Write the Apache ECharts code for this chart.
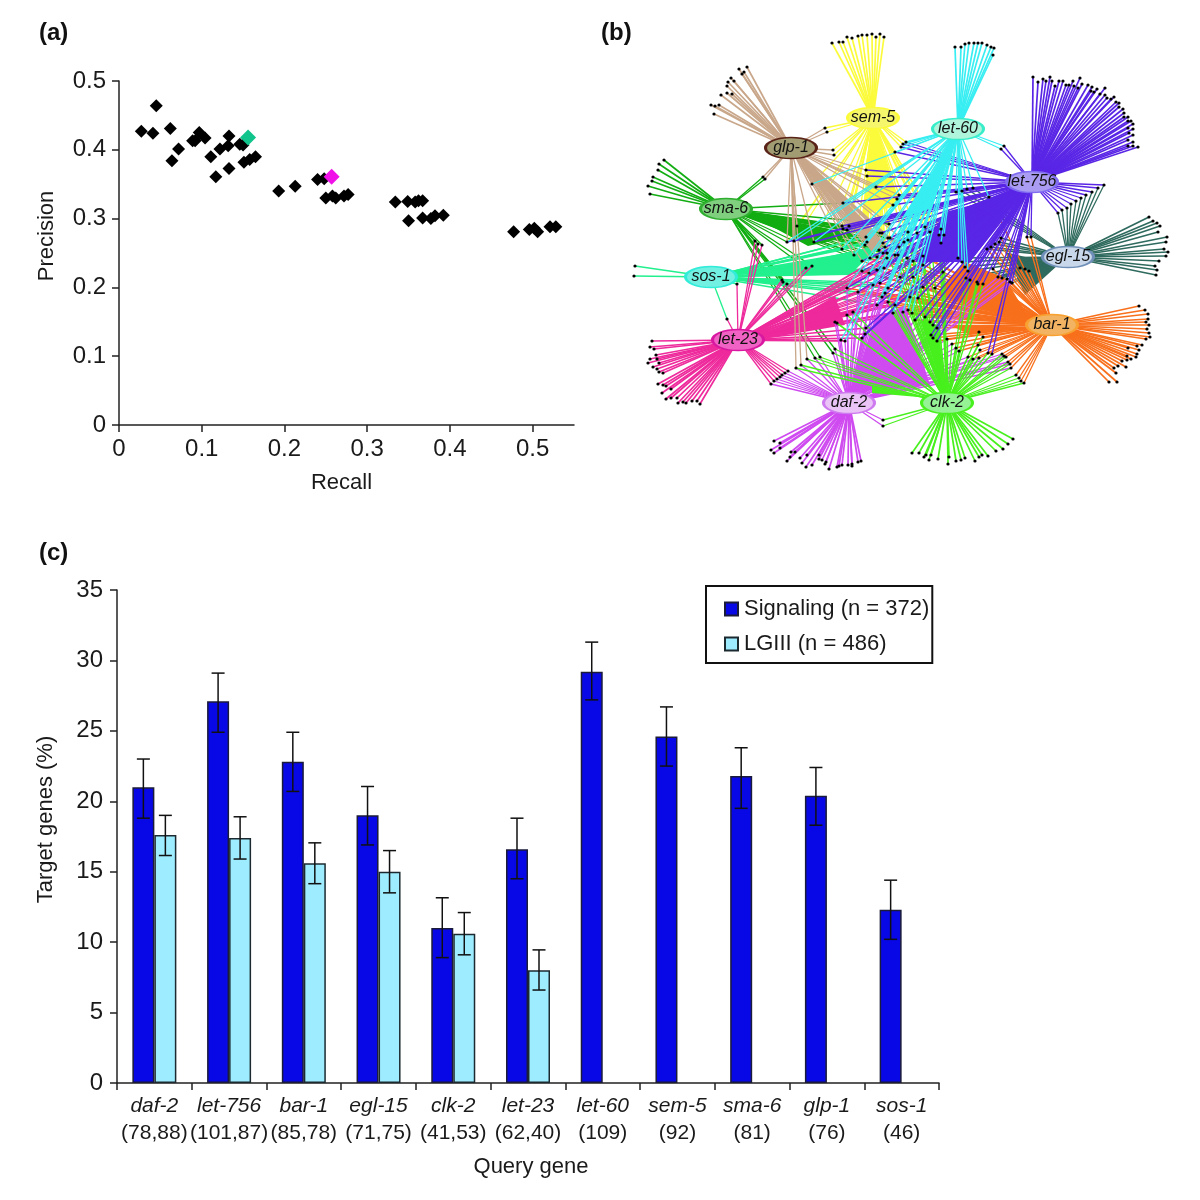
<!DOCTYPE html>
<html><head><meta charset="utf-8">
<style>html,body{margin:0;padding:0;background:#fff}#c{width:1200px;height:1200px}</style>
<script src="https://cdn.jsdelivr.net/npm/echarts@6/dist/echarts.min.js"></script>
</head><body><div id="c"></div>
<script>
// ---------- panel (a) data ----------
const recallPrecision = [[0.027,0.427],[0.041,0.424],[0.045,0.464],[0.062,0.431],[0.064,0.384],[0.072,0.401],[0.089,0.413],[0.092,0.413],[0.097,0.425],[0.104,0.417],[0.111,0.390],[0.117,0.361],[0.122,0.401],[0.132,0.406],[0.133,0.420],[0.133,0.373],[0.146,0.408],[0.150,0.407],[0.151,0.382],[0.158,0.386],[0.165,0.390],[0.193,0.340],[0.213,0.347],[0.240,0.357],[0.248,0.358],[0.250,0.330],[0.258,0.333],[0.262,0.330],[0.272,0.333],[0.277,0.335],[0.334,0.324],[0.349,0.325],[0.358,0.324],[0.362,0.326],[0.367,0.326],[0.350,0.297],[0.367,0.301],[0.377,0.300],[0.382,0.304],[0.392,0.305],[0.477,0.281],[0.496,0.284],[0.502,0.286],[0.506,0.281],[0.521,0.288],[0.528,0.288]];
const greenPoint = [0.156,0.418];
const magentaPoint = [0.257,0.361];
const recallTicks = [0,0.1,0.2,0.3,0.4,0.5];

// ---------- panel (c) data ----------
const queryGenes = ['daf-2','let-756','bar-1','egl-15','clk-2','let-23','let-60','sem-5','sma-6','glp-1','sos-1'];
const targetCounts = ['(78,88)','(101,87)','(85,78)','(71,75)','(41,53)','(62,40)','(109)','(92)','(81)','(76)','(46)'];
const signaling = [21,27.1,22.8,19,11,16.6,29.2,24.6,21.8,20.4,12.3];
const lgiii = [17.6,17.4,15.6,15,10.6,8,null,null,null,null,null];
const signalingLow = [18.8,24.9,20.7,16.9,8.9,14.5,27.2,22.5,19.5,18.3,10.2];
const signalingHigh = [23,29.1,24.9,21.05,13.15,18.8,31.3,26.7,23.8,22.4,14.4];
const lgiiiLow = [16.15,15.9,14.15,13.5,9.1,6.6];
const lgiiiHigh = [19,18.9,17.05,16.5,12.1,9.45];

// ---------- panel (b) data: layout coordinates of the network ----------
const hubs = {
 a:{name:'sem-5',pos:[873,118]}, b:{name:'let-60',pos:[958,129]}, c:{name:'glp-1',pos:[791,148]},
 d:{name:'let-756',pos:[1032,182]}, e:{name:'sma-6',pos:[726,209]}, f:{name:'egl-15',pos:[1068,257]},
 g:{name:'sos-1',pos:[711,277]}, h:{name:'bar-1',pos:[1052,325]}, i:{name:'let-23',pos:[738,340]},
 j:{name:'daf-2',pos:[849,403]}, k:{name:'clk-2',pos:[947,403]}
};
const edgeColors = {a:'#fbfb3c',b:'#38eef2',c:'#c9a78a',d:'#5a26e6',e:'#12ad12',f:'#2f6a5e',g:'#22f08e',h:'#f8701c',i:'#ee2a9c',j:'#cf4bf0',k:'#48f01e'};
const fillColors = {a:'#f6f66c',b:'#aef5dc',c:'#a19c72',d:'#a99cf2',e:'#7fcf7f',f:'#c8d8ea',g:'#72f0e2',h:'#f2b362',i:'#f062c4',j:'#eac4f6',k:'#95f295'};
const borderColors = {a:'#fbfb3c',b:'#38eeca',c:'#5a2318',d:'#7f6cf0',e:'#2fae2f',f:'#6f8fb8',g:'#30ecd8',h:'#f8a030',i:'#d818a0',j:'#cf7bf0',k:'#48f01e'};
const layerOrder = 'aegfhijkcdb';

const glpFan = [[747,67],[739,69],[744,72],[742,74],[731,78],[734,81],[728,82],[727,86],[727,93],[732,94],[721,95],[711,105],[715,106],[719,105],[714,114]];
const smaFan = [[664,160],[659,164],[658,170],[653,177],[652,181],[648,186],[650,194]];
const semFan = [[832,43],[839,42],[843,42],[847,37],[852,38],[858,36],[862,35],[867,35],[872,34],[876,37],[880,34],[884,37]];
const let60Fan = [[955,47],[961,47],[965,44],[969,43],[974,43],[978,43],[982,43],[987,45],[991,47],[994,48],[993,55]];
const let756Fan = [[1033,77],[1038,82],[1043,79],[1046,81],[1050,77],[1052,81],[1055,86],[1059,81],[1063,81],[1066,85],[1069,85],[1073,81],[1074,86],[1078,88],[1080,78],[1082,84],[1088,85],[1092,87],[1091,91],[1097,89],[1094,92],[1100,94],[1105,88],[1105,95],[1107,98],[1111,99],[1114,97],[1116,102],[1119,103],[1119,107],[1123,109],[1124,113],[1124,117],[1128,117],[1128,121],[1131,121],[1133,124],[1128,128],[1133,129],[1129,133],[1133,135],[1128,140],[1133,142],[1128,146],[1133,146],[1138,147]];
const eglFan = [[1149,217],[1153,221],[1157,223],[1160,226],[1158,232],[1167,237],[1166,242],[1164,249],[1168,252],[1166,256],[1159,261],[1155,266],[1157,270],[1156,275]];
const barFan = [[1139,306],[1145,310],[1148,314],[1148,319],[1146,322],[1149,325],[1147,329],[1149,333],[1150,337],[1146,339],[1142,345],[1137,346],[1128,348],[1139,350],[1137,354],[1127,356],[1136,357],[1131,359],[1122,361],[1127,360],[1126,367],[1118,366],[1114,368],[1116,373],[1117,382],[1109,382]];
const clkFan = [[1013,439],[1008,444],[1003,449],[996,451],[988,456],[982,455],[979,457],[975,461],[965,458],[961,460],[956,461],[949,457],[948,464],[938,459],[929,460],[931,455],[926,455],[924,457],[919,453],[912,453]];
const dafFan = [[774,441],[780,443],[780,448],[771,450],[774,453],[791,452],[795,452],[790,457],[787,461],[800,458],[807,455],[802,463],[806,467],[812,465],[819,455],[819,459],[822,460],[826,462],[825,464],[829,469],[837,467],[839,466],[842,465],[848,465],[852,464],[852,466],[858,462],[861,461]];
const let23Fan = [[652,341],[650,347],[654,349],[656,355],[650,359],[648,363],[657,359],[653,367],[659,363],[657,369],[659,372],[663,373],[658,384],[663,385],[666,386],[662,393],[671,389],[666,399],[671,398],[677,398],[678,403],[683,402],[686,403],[692,401],[697,401],[700,404]];
const sosFan = [[635,266],[634,276]];

// target genes shared by several query genes: [query genes, target positions]
const sharedTargets = [
 ['df',[[1104,185],[1098,188],[1092,192],[1086,195],[1081,198],[1076,201],[1071,204],[1067,208],[1062,210],[1058,213]]],
 ['bd',[[1004,146],[1001,149]]],
 ['hk',[[1024,383],[1021,381],[1019,378],[1016,375]]],
 ['hkj',[[1011,368],[1010,364],[1008,362],[1006,357],[1004,356],[1002,354]]],
 ['jk',[[883,420],[883,426]]],
 ['ij',[[788,371],[785,373],[782,375],[780,377],[777,379],[774,381],[771,384]]],
 ['ca',[[825,128],[827,132],[833,150],[834,155]]],
 ['ce',[[763,177],[765,179]]],
 ['cba',[[812,184]]],
 ['cda',[[866,170],[867,176],[876,187]]],
 ['cdeba',[[843,203]]],
 ['cea',[[797,226]]],
 ['ei',[[755,241],[758,244],[762,245]]],
 ['cedab',[[787,242],[794,241],[814,242]]],
 ['ceda',[[842,226],[843,229],[847,230],[849,226]]],
 ['cegba',[[842,249],[854,255],[866,237],[867,242],[865,245]]],
 ['acdegh',[[882,233],[888,238],[885,247],[879,250],[883,253],[877,257],[870,258],[862,261],[887,258]]],
 ['abd',[[906,142],[903,144],[901,147],[895,152]]],
 ['acd',[[899,195],[897,199],[893,205]]],
 ['bdf',[[956,192],[962,191],[967,189],[973,188]]],
 ['bh',[[989,197]]],
 ['acde',[[889,224],[880,233],[883,243],[890,238]]],
 ['bdak',[[908,232],[917,233],[925,227],[930,232],[941,229],[939,235],[944,235],[941,243],[908,240],[904,242]]],
 ['bdcik',[[899,247],[887,253],[895,255],[898,255],[907,258],[913,261],[923,256]]],
 ['bdhf',[[958,258],[962,262],[965,267],[968,271]]],
 ['dfh',[[987,249],[991,247],[995,244],[999,242],[1001,238]]],
 ['dh',[[1027,237],[1031,237],[993,269]]],
 ['fh',[[1020,268],[1025,269],[1029,271]]],
 ['gi',[[737,284],[727,319]]],
 ['egi',[[806,268],[812,266],[782,280],[783,282],[787,284]]],
 ['igbdhj',[[847,288],[858,292],[862,271],[869,273],[877,270],[884,268],[873,285],[880,283],[888,288],[882,297],[877,305]]],
 ['ijk',[[853,312],[847,315],[837,323],[835,322]]],
 ['ijd',[[866,328],[865,334],[862,338]]],
 ['ibj',[[845,341],[841,340]]],
 ['jke',[[835,349],[833,353],[820,357],[815,358]]],
 ['ckj',[[807,359],[801,365],[796,368]]],
 ['ibhjk',[[888,302],[895,305],[885,293],[903,312],[893,313],[908,310],[912,313]]],
 ['dhki',[[918,298],[923,287],[910,297],[900,277],[913,277],[923,265],[935,288],[943,272]]],
 ['dhkj',[[925,317],[930,322],[933,325],[937,328],[915,320],[931,335],[933,338],[937,341]]],
 ['hjk',[[947,339],[952,344],[956,348],[959,351]]],
 ['dhfk',[[966,278],[970,280],[977,282],[978,284],[983,284]]],
 ['dhfj',[[998,277],[1002,278],[1007,279],[1010,282],[1012,283]]],
 ['hk',[[979,332],[983,337],[978,345],[980,350]]],
 ['hkj',[[968,357],[973,359],[979,358]]],
 ['hkd',[[988,353],[992,354]]]
];
// densely overlapping edges read as filled wedges in the figure
const denseWedges = {
 a:[[[873,120],[862,215],[900,205]]],
 e:[[[745,212],[858,235],[808,246]]],
 g:[[[735,277],[880,245],[850,275]]],
 f:[[[1058,265],[1005,252],[1025,295]]],
 h:[[[1032,323],[935,295],[965,262],[1005,278]],[[1027,327],[950,325],[970,335]]],
 i:[[[757,340],[835,296],[845,325]]],
 j:[[[852,392],[875,320],[905,305],[930,385]]],
 k:[[[945,393],[920,320],[938,325]],[[930,398],[872,386],[872,393]]],
 c:[[[806,158],[884,243],[872,252]]],
 d:[[[1022,192],[945,212],[915,262],[970,262]]],
 b:[[[955,138],[902,218],[932,208]]]
};

// ---------- chart ----------
const fanOf = {a:semFan,b:let60Fan,c:glpFan,d:let756Fan,e:smaFan,f:eglFan,g:sosFan,h:barFan,i:let23Fan,j:dafFan,k:clkFan};
const FONT = '"Liberation Sans", Arial, sans-serif';
const tickText = {color:'#1a1a1a',fontSize:24,fontFamily:FONT};
const nameText = {color:'#1a1a1a',fontSize:22,fontFamily:FONT};
const axisInk = {lineStyle:{color:'#222',width:1.5}};
const BAR_W = 22;

const allTargets = [];
const edgesOf = {};
Object.keys(hubs).forEach(k=>{ edgesOf[k]=[]; fanOf[k].forEach(p=>{allTargets.push(p); edgesOf[k].push({coords:[hubs[k].pos,p]});}); });
sharedTargets.forEach(([keys,pts])=>{ pts.forEach(p=>{ allTargets.push(p); keys.split('').forEach(k=>edgesOf[k].push({coords:[hubs[k].pos,p],lineStyle:{width:1.3}})); }); });

const networkSeries = [];
layerOrder.split('').forEach(k=>{
  networkSeries.push({
    type:'custom',name:'wedge '+hubs[k].name,xAxisIndex:1,yAxisIndex:1,silent:true,clip:false,
    data:denseWedges[k].map((w,i)=>[i]),
    renderItem:(params,api)=>({type:'polygon',shape:{points:denseWedges[k][api.value(0)].map(p=>api.coord(p))},style:{fill:edgeColors[k]}})
  });
  networkSeries.push({
    type:'lines',name:'edges '+hubs[k].name,coordinateSystem:'cartesian2d',xAxisIndex:1,yAxisIndex:1,silent:true,
    lineStyle:{color:edgeColors[k],width:1.7,opacity:1},data:edgesOf[k]
  });
});

const errorData = [];
signaling.forEach((v,i)=>errorData.push([i,signalingLow[i],signalingHigh[i],-1]));
lgiiiLow.forEach((v,i)=>errorData.push([i,lgiiiLow[i],lgiiiHigh[i],1]));

const option = {
  animation:false, backgroundColor:'#fff',
  graphic:[
    {type:'text',left:39,top:21,style:{text:'(a)',font:'bold 24px '+FONT,fill:'#111'}},
    {type:'text',left:601,top:21,style:{text:'(b)',font:'bold 24px '+FONT,fill:'#111'}},
    {type:'text',left:39,top:541,style:{text:'(c)',font:'bold 24px '+FONT,fill:'#111'}}
  ],
  grid:[
    {left:119,top:81,width:455,height:344},
    {left:600,top:0,width:600,height:500},
    {left:117,top:590,width:822,height:493}
  ],
  legend:{
    left:706,top:586,orient:'vertical',data:['Signaling (n = 372)','LGIII (n = 486)'],
    backgroundColor:'#fff',borderColor:'#111',borderWidth:2,padding:[12,3,8,18],itemGap:13,itemWidth:13,itemHeight:13,icon:'rect',
    textStyle:{fontSize:22,fontFamily:FONT,color:'#1a1a1a',padding:[0,0,0,1]},selectedMode:false
  },
  xAxis:[
    {gridIndex:0,type:'value',min:0,max:0.55,interval:0.1,splitLine:{show:false},
     axisLine:{onZero:false,...axisInk},axisTick:{show:true,length:7,customValues:recallTicks,...axisInk},
     axisLabel:{...tickText,margin:12,customValues:recallTicks,formatter:v=>v===0?'0':v.toFixed(1)},
     name:'Recall',nameLocation:'middle',nameGap:47,nameTextStyle:{...nameText,padding:[0,10,0,0]}},
    {gridIndex:1,type:'value',min:600,max:1200,show:false},
    {gridIndex:2,type:'category',data:queryGenes,axisLine:{onZero:false,...axisInk},
     axisTick:{show:true,length:7,alignWithLabel:false,interval:0,...axisInk},
     axisLabel:{interval:0,margin:10,hideOverlap:false,fontFamily:FONT,color:'#1a1a1a',
       formatter:(v,i)=>'{n|'+v+'}\n{c|'+targetCounts[i]+'}',
       rich:{n:{fontStyle:'italic',fontSize:21,fontFamily:FONT,color:'#1a1a1a',lineHeight:27},c:{fontSize:21,fontFamily:FONT,color:'#1a1a1a',lineHeight:27}}},
     name:'Query gene',nameLocation:'middle',nameGap:73,nameTextStyle:{...nameText,padding:[0,0,0,6]}}
  ],
  yAxis:[
    {gridIndex:0,type:'value',min:0,max:0.5,interval:0.1,splitLine:{show:false},
     axisLine:{show:true,onZero:false,...axisInk},axisTick:{show:true,length:7,...axisInk},
     axisLabel:{...tickText,margin:13,formatter:v=>v===0?'0':v.toFixed(1)},
     name:'Precision',nameLocation:'middle',nameGap:61,nameTextStyle:{...nameText,padding:[0,0,0,34]}},
    {gridIndex:1,type:'value',min:0,max:500,inverse:true,show:false},
    {gridIndex:2,type:'value',min:0,max:35,interval:5,splitLine:{show:false},
     axisLine:{show:true,onZero:false,...axisInk},axisTick:{show:true,length:7,...axisInk},
     axisLabel:{...tickText,margin:14},
     name:'Target genes (%)',nameLocation:'middle',nameGap:60,nameTextStyle:{...nameText,padding:[0,0,0,34]}}
  ],
  series:[
    {type:'scatter',name:'Gene sets',xAxisIndex:0,yAxisIndex:0,symbol:'diamond',symbolSize:13,itemStyle:{color:'#000',opacity:1},data:recallPrecision},
    {type:'scatter',name:'Signaling point',xAxisIndex:0,yAxisIndex:0,symbol:'diamond',symbolSize:16,itemStyle:{color:'#10c48c',opacity:1},data:[greenPoint],z:3},
    {type:'scatter',name:'LGIII point',xAxisIndex:0,yAxisIndex:0,symbol:'diamond',symbolSize:16,itemStyle:{color:'#f010e8',opacity:1},data:[magentaPoint],z:3},
    ...networkSeries,
    {type:'scatter',name:'Targets',xAxisIndex:1,yAxisIndex:1,symbol:'circle',symbolSize:3.2,itemStyle:{color:'#000',opacity:1},silent:true,data:allTargets,z:4},
    {type:'scatter',name:'Query genes',xAxisIndex:1,yAxisIndex:1,symbol:'circle',symbolSize:[51,21],silent:true,z:5,
     data:Object.keys(hubs).map(k=>({value:hubs[k].pos,name:hubs[k].name,
       itemStyle:{color:fillColors[k],borderColor:borderColors[k],borderWidth:2,opacity:1},
       label:{show:true,position:'inside',formatter:hubs[k].name,fontStyle:'italic',fontSize:16,fontFamily:FONT,color:'#111'}}))},
    {type:'bar',name:'Signaling (n = 372)',xAxisIndex:2,yAxisIndex:2,data:signaling,barWidth:BAR_W,barGap:0,
     itemStyle:{color:'#0808e6',borderColor:'#1b1b3a',borderWidth:1.5}},
    {type:'bar',name:'LGIII (n = 486)',xAxisIndex:2,yAxisIndex:2,data:lgiii,barWidth:BAR_W,barGap:0,
     itemStyle:{color:'#9eecff',borderColor:'#1c2a30',borderWidth:1.5}},
    {type:'custom',name:'Error bars',xAxisIndex:2,yAxisIndex:2,silent:true,z:4,data:errorData,
     renderItem:(params,api)=>{
       const side=api.value(3)*BAR_W/2, lo=api.coord([api.value(0),api.value(1)]), hi=api.coord([api.value(0),api.value(2)]);
       const x=lo[0]+side, st={stroke:'#111',lineWidth:1.5};
       return {type:'group',children:[
         {type:'line',shape:{x1:x,y1:lo[1],x2:x,y2:hi[1]},style:st},
         {type:'line',shape:{x1:x-6.5,y1:lo[1],x2:x+6.5,y2:lo[1]},style:st},
         {type:'line',shape:{x1:x-6.5,y1:hi[1],x2:x+6.5,y2:hi[1]},style:st}
       ]};
     }}
  ]
};
const chart = echarts.init(document.getElementById('c'),null,{renderer:'canvas',width:1200,height:1200});
chart.setOption(option);
</script>
</body></html>
